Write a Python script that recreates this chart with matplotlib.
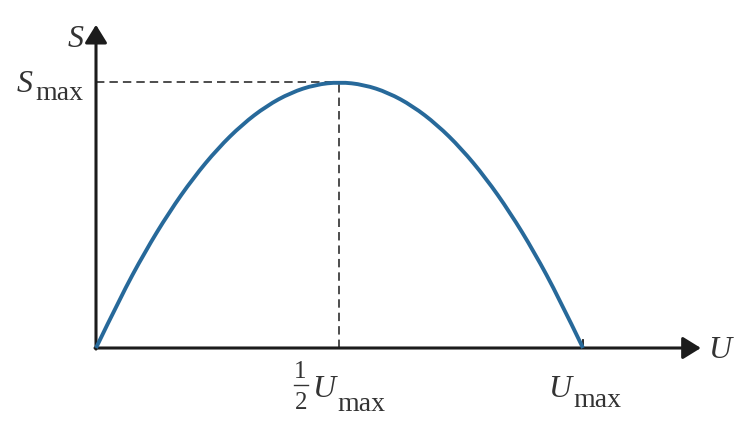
import matplotlib

matplotlib.use("Agg")

import matplotlib.pyplot as plt
from matplotlib.path import Path
from matplotlib.patches import PathPatch

# curve, U in units of U_max, S in units of S_max
u_vals = [0.0, 0.05, 0.10, 0.15, 0.20, 0.25, 0.30, 0.35, 0.40, 0.45, 0.50,
          0.55, 0.60, 0.65, 0.70, 0.75, 0.80, 0.85, 0.90, 0.95, 1.0]
s_vals = [0.0, 0.19, 0.36, 0.51, 0.64, 0.75, 0.84, 0.91, 0.96, 0.99, 1.0,
          0.99, 0.96, 0.91, 0.84, 0.75, 0.64, 0.51, 0.36, 0.19, 0.0]

u_peak = 0.5
s_peak = 1.0
u_max = 1.0

W, H = 749, 430
fig = plt.figure(figsize=(W / 100, H / 100), dpi=100)
ax = fig.add_axes([0, 0, 1, 1])

# origin sits at pixel (96, 348), (U_max, S_max) at (583, 82)
x0, y0, sx, sy = 96, 348, 487, 266
ax.set_xlim(-x0 / sx, (W - x0) / sx)
ax.set_ylim(-(H - y0) / sy, y0 / sy)
ax.axis("off")


def px(xp, yp):
    # pixel position (from top left) -> data coords, for placing labels
    return (xp - x0) / sx, (y0 - yp) / sy


axis_col = "#1c1c1c"
arrow = dict(arrowstyle="-|>,head_length=0.55,head_width=0.34",
             lw=2.2, color=axis_col, mutation_scale=20,
             shrinkA=0, shrinkB=0)
ax.annotate("", xy=(0, 1.215), xytext=(0, -0.004), arrowprops=arrow)
ax.annotate("", xy=(1.242, 0), xytext=(-0.002, 0), arrowprops=arrow)

dash = (0, (5.5, 3.3))
ax.plot([0, u_peak], [s_peak, s_peak], color=axis_col, lw=1.1, ls=dash)
ax.plot([u_peak, u_peak], [0, s_peak], color=axis_col, lw=1.1, ls=dash)
ax.plot([u_max, u_max], [0, 0.03], color=axis_col, lw=1.3)

# smooth curve: read points used as quadratic spline control points
pts = list(zip(u_vals, s_vals))
verts = [pts[0]]
codes = [Path.MOVETO]
for i in range(1, len(pts) - 1):
    nxt = pts[i + 1] if i == len(pts) - 2 else (
        (pts[i][0] + pts[i + 1][0]) / 2, (pts[i][1] + pts[i + 1][1]) / 2)
    verts += [pts[i], nxt]
    codes += [Path.CURVE3, Path.CURVE3]
ax.add_patch(PathPatch(Path(verts, codes), fill=False, color="#27699a",
                       lw=2.8, capstyle="butt", zorder=3))

txt = "#333333"
it = dict(family="Liberation Serif", style="italic", color=txt)
rm = dict(family="Liberation Serif", color=txt)
fs_main = 23
fs_sub = 20


def label(xl, yb, main, sub_yb):
    # italic symbol with a roman "max" subscript right after it
    t = ax.text(*px(xl, yb), main, fontsize=fs_main, ha="left",
                va="baseline", **it)
    ax.annotate("max", xy=(1, px(0, sub_yb)[1]), xycoords=(t, "data"),
                xytext=(1.5, 0), textcoords="offset points",
                fontsize=fs_sub, ha="left", va="baseline", **rm)


ax.text(*px(76, 47), "S", fontsize=fs_main, ha="center", va="baseline", **it)
label(17, 92, "S", 100)

ax.text(*px(300, 378), "1", fontsize=18, ha="center", va="baseline", **rm)
ax.plot(*zip(px(294, 385), px(308, 385)), color=txt, lw=1.0)
ax.text(*px(301, 409), "2", fontsize=18, ha="center", va="baseline", **rm)
label(312, 397, "U", 411)

label(548, 397, "U", 407)

ax.text(*px(720, 358), "U", fontsize=fs_main, ha="center", va="baseline",
        **it)

fig.savefig("out.png", dpi=100)
